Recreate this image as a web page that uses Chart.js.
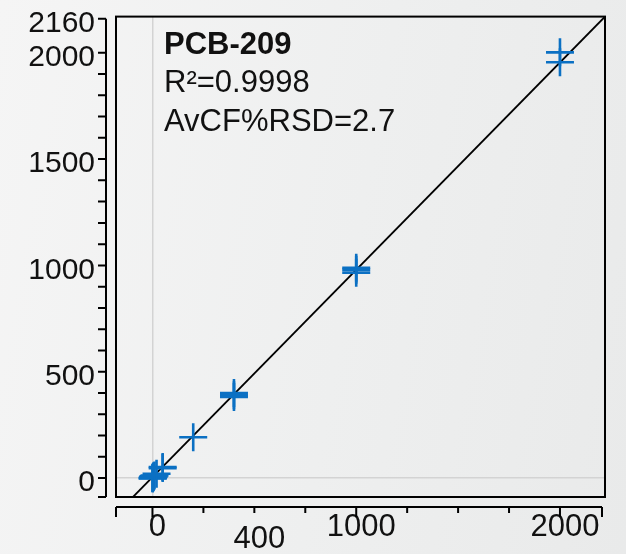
<!DOCTYPE html>
<html>
<head>
<meta charset="utf-8">
<script src="https://cdn.jsdelivr.net/npm/chart.js@4/dist/chart.umd.min.js"></script>
<style>
  html, body { margin: 0; padding: 0; }
  body { width: 626px; height: 554px; background: linear-gradient(100deg, #f5f5f5 0%, #eeefef 55%, #e9eaea 100%); }
  canvas { display: block; }
</style>
</head>
<body>
<canvas id="calib" width="626" height="554"></canvas>
<script>
// calibration standards: expected vs measured amount
const stdX = [1, 1, 2, 2, 5, 5, 10, 20, 50, 50, 200, 400, 400, 400, 1000, 1000, 1000, 2000, 2000];
const stdY = [-2, 0, 1, 3, 5, 8, 12, 20, 52, 47, 192, 400, 389, 381, 989, 980, 966, 2002, 1955];

// fitted regression line, end points
const fitX = [-179, 2221];
const fitY = [-170, 2170];

// axis ticks
const xTickMarks = [0, 250, 500, 750, 1000, 1250, 1500, 1750, 2000];
const xMajor = [0, 1000, 2000];
const xLabelTicks = [0, 500, 1000, 2000];
const xLabelText = ['0', '400', '1000', '2000'];
const yTickMarks = [0, 100, 200, 300, 400, 500, 600, 700, 800, 900, 1000, 1100, 1200, 1300, 1400, 1500, 1600, 1700, 1800, 1900, 2000, 2160];
const yLabelled = [0, 500, 1000, 1500, 2000, 2160];

const noteLines = ['PCB-209', 'R\u00B2=0.9998', 'AvCF%RSD=2.7'];

const FAMILY = "'Liberation Sans', Arial, sans-serif";
Chart.defaults.font.family = FAMILY;
Chart.defaults.color = '#111';

// offset axes, tick marks, plot frame and the note
const frame = {
  id: 'frame',
  afterDatasetsDraw(chart) {
    const { ctx, chartArea: a, scales: { x, y } } = chart;
    ctx.save();
    ctx.strokeStyle = '#000';
    ctx.lineWidth = 2;
    ctx.strokeRect(a.left, a.top, a.right - a.left, a.bottom - a.top);

    // y axis, pulled away from the frame
    const ax = a.left - 10;
    ctx.beginPath();
    ctx.moveTo(ax, y.getPixelForValue(2160));
    ctx.lineTo(ax, a.bottom);
    ctx.moveTo(ax - 8, a.bottom);
    ctx.lineTo(ax, a.bottom);
    yTickMarks.forEach(v => {
      const py = y.getPixelForValue(v);
      ctx.moveTo(ax - 8, py);
      ctx.lineTo(ax, py);
    });
    ctx.stroke();

    // x axis
    const ay = a.bottom + 10;
    const xr = a.right - 3;
    ctx.beginPath();
    ctx.moveTo(a.left, ay);
    ctx.lineTo(xr, ay);
    ctx.moveTo(a.left, ay);
    ctx.lineTo(a.left, ay + 10);
    ctx.moveTo(xr, ay);
    ctx.lineTo(xr, ay + 10);
    xTickMarks.forEach(v => {
      const px = x.getPixelForValue(v);
      ctx.moveTo(px, ay);
      ctx.lineTo(px, ay + (xMajor.includes(v) ? 10 : 6));
    });
    ctx.stroke();

    // compound name and fit statistics
    ctx.fillStyle = '#111';
    ctx.textBaseline = 'alphabetic';
    ctx.textAlign = 'left';
    noteLines.forEach((t, i) => {
      ctx.font = (i === 0 ? 'bold ' : '') + '31px ' + FAMILY;
      ctx.fillText(t, a.left + 48, a.top + 37 + i * 38.5);
    });
    ctx.restore();
  }
};

new Chart(document.getElementById('calib'), {
  type: 'scatter',
  data: {
    datasets: [{
      label: 'Standards',
      data: stdX.map((v, i) => ({ x: v, y: stdY[i] })),
      pointStyle: 'cross',
      pointRadius: 14,
      pointHoverRadius: 14,
      pointBorderWidth: 2.6,
      borderColor: '#0b70c3',
      backgroundColor: '#0b70c3'
    }, {
      label: 'Fit',
      data: fitX.map((v, i) => ({ x: v, y: fitY[i] })),
      showLine: true,
      borderColor: '#000',
      borderWidth: 1.8,
      pointRadius: 0
    }]
  },
  options: {
    responsive: false,
    animation: false,
    devicePixelRatio: 1,
    layout: { padding: { top: 16, right: 21, left: 0, bottom: 0 } },
    plugins: { legend: { display: false }, tooltip: { enabled: false } },
    scales: {
      x: {
        type: 'linear',
        min: -179,
        max: 2221,
        afterFit: s => { s.height = 57; s.paddingLeft = 0; s.paddingRight = 0; },
        afterBuildTicks: s => { s.ticks = xLabelTicks.map(v => ({ value: v })); },
        border: { display: false },
        grid: {
          drawTicks: false,
          color: c => (c.tick && c.tick.value === 0 ? '#d3d3d3' : 'rgba(0,0,0,0)'),
          lineWidth: 1.5
        },
        ticks: {
          padding: 12,
          labelOffset: 5,
          maxRotation: 0,
          autoSkip: false,
          font: c => (c.tick && c.tick.value === 500 ? { size: 31, lineHeight: 0.65 } : { size: 31 }),
          callback: v => {
            const i = xLabelTicks.indexOf(v);
            const t = xLabelText[i];
            return v === 500 ? ['', t] : t;
          }
        }
      },
      y: {
        type: 'linear',
        min: -89,
        max: 2170,
        afterFit: s => { s.width = 116; s.paddingTop = 0; s.paddingBottom = 0; },
        afterBuildTicks: s => { s.ticks = yTickMarks.map(v => ({ value: v })); },
        border: { display: false },
        grid: {
          drawTicks: false,
          color: c => (c.tick && c.tick.value === 0 ? '#d3d3d3' : 'rgba(0,0,0,0)'),
          lineWidth: 1.5
        },
        ticks: {
          padding: 21,
          labelOffset: 5,
          autoSkip: false,
          font: { size: 30 },
          callback: v => (yLabelled.includes(v) ? String(v) : '')
        }
      }
    }
  },
  plugins: [frame]
});
</script>
</body>
</html>
